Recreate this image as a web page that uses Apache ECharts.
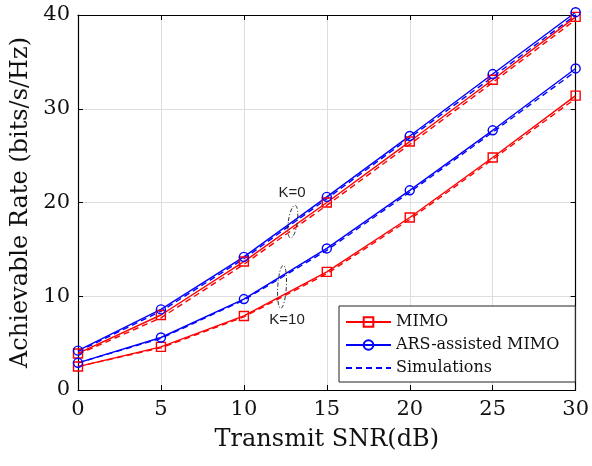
<!DOCTYPE html>
<html>
<head>
<meta charset="utf-8">
<script src="https://cdn.jsdelivr.net/npm/echarts@6/dist/echarts.min.js"></script>
<style>
  html, body { margin: 0; padding: 0; background: #fff; }
  #chart { width: 592px; height: 466px; }
</style>
</head>
<body>
<div id="chart"></div>
<script>
// transmit SNR (dB)
var snr = [0, 5, 10, 15, 20, 25, 30];

// analytical curves
var mimoK0 = [3.9, 8.0, 13.7, 20.0, 26.5, 33.1, 39.8];
var arsK0 = [4.2, 8.6, 14.2, 20.6, 27.1, 33.7, 40.3];
var mimoK10 = [2.5, 4.6, 7.9, 12.6, 18.4, 24.8, 31.4];
var arsK10 = [2.9, 5.6, 9.7, 15.1, 21.3, 27.7, 34.3];

// simulations (dashed)
var mimoK0Sim = [3.8, 7.7, 13.4, 19.7, 26.2, 32.8, 39.5];
var arsK0Sim = [4.1, 8.4, 14.0, 20.4, 26.9, 33.4, 40.0];
var mimoK10Sim = [2.5, 4.5, 7.8, 12.4, 18.2, 24.6, 31.1];
var arsK10Sim = [2.9, 5.5, 9.6, 14.9, 21.1, 27.5, 34.0];

var xTicks = [0, 5, 10, 15, 20, 25, 30];
var yTicks = [0, 10, 20, 30, 40];

var RED = '#ff0000';
var BLUE = '#0000ff';
var serif = 'DejaVu Serif';

function pts(arr) {
  return snr.map(function (x, i) { return [x, arr[i]]; });
}

function solid(name, arr, color, symbol) {
  return {
    name: name,
    type: 'line',
    data: pts(arr),
    symbol: symbol,
    symbolSize: 9,
    clip: false,
    z: 3,
    lineStyle: { color: color, width: 1.4 },
    itemStyle: { color: 'rgba(0,0,0,0)', borderColor: color, borderWidth: 1.4 },
    emphasis: { disabled: true }
  };
}

function dashed(arr, color) {
  return {
    name: 'Simulations',
    type: 'line',
    data: pts(arr),
    symbol: 'none',
    clip: false,
    z: 2,
    lineStyle: { color: color, width: 1.4, type: [6, 4] },
    // transparent so the legend shows only the dashed line
    itemStyle: { color: 'rgba(0,0,0,0)', borderWidth: 0 },
    emphasis: { disabled: true }
  };
}

var chart = echarts.init(document.getElementById('chart'));

var option = {
  animation: false,
  backgroundColor: '#fff',
  grid: { left: 78, right: 9, top: 15, bottom: 76 },
  legend: {
    data: [
      'MIMO',
      'ARS-assisted MIMO',
      { name: 'Simulations', itemStyle: { color: 'rgba(0,0,0,0)', borderWidth: 0 } }
    ],
    orient: 'vertical',
    left: 339,
    top: 306,
    itemWidth: 45,
    itemHeight: 12,
    itemGap: 7,
    padding: [8, 16, 6, 6],
    borderColor: '#222',
    borderWidth: 1,
    backgroundColor: '#fff',
    selectedMode: false,
    textStyle: { fontFamily: serif, fontSize: 16, color: '#111' }
  },
  xAxis: [{
    type: 'value',
    min: 0, max: 30, interval: 5,
    name: 'Transmit SNR(dB)',
    nameLocation: 'middle',
    nameGap: 38,
    nameTextStyle: { fontFamily: serif, fontSize: 24, color: '#111' },
    axisLine: { show: true, onZero: false, lineStyle: { color: '#000', width: 1.2 } },
    axisTick: { show: true, inside: true, length: 5, lineStyle: { color: '#000' } },
    axisLabel: {
      margin: 9, fontFamily: serif, fontSize: 21, color: '#111',
      formatter: function (v) { return xTicks.indexOf(v) >= 0 ? String(v) : ''; }
    },
    splitLine: { show: true, lineStyle: { color: '#dedede', width: 1 } }
  }, {
    type: 'value',
    position: 'top',
    min: 0, max: 30, interval: 5,
    axisLine: { show: true, onZero: false, lineStyle: { color: '#000', width: 1.2 } },
    axisTick: { show: true, inside: true, length: 5, lineStyle: { color: '#000' } },
    axisLabel: { show: false },
    splitLine: { show: false }
  }],
  yAxis: [{
    type: 'value',
    min: 0, max: 40, interval: 10,
    name: 'Achievable Rate (bits/s/Hz)',
    nameLocation: 'middle',
    nameGap: 42,
    nameRotate: 90,
    nameTextStyle: { fontFamily: serif, fontSize: 24, color: '#111' },
    axisLine: { show: true, onZero: false, lineStyle: { color: '#000', width: 1.2 } },
    axisTick: { show: true, inside: true, length: 5, lineStyle: { color: '#000' } },
    axisLabel: {
      margin: 8, fontFamily: serif, fontSize: 21, color: '#111',
      formatter: function (v) { return yTicks.indexOf(v) >= 0 ? String(v) : ''; }
    },
    splitLine: { show: true, lineStyle: { color: '#dedede', width: 1 } }
  }, {
    type: 'value',
    position: 'right',
    min: 0, max: 40, interval: 10,
    axisLine: { show: true, onZero: false, lineStyle: { color: '#000', width: 1.2 } },
    axisTick: { show: true, inside: true, length: 5, lineStyle: { color: '#000' } },
    axisLabel: { show: false },
    splitLine: { show: false }
  }],
  series: [
    dashed(arsK0Sim, BLUE),
    dashed(mimoK0Sim, RED),
    dashed(arsK10Sim, BLUE),
    dashed(mimoK10Sim, RED),
    solid('MIMO', mimoK0, RED, 'rect'),
    solid('ARS-assisted MIMO', arsK0, BLUE, 'circle'),
    solid('MIMO', mimoK10, RED, 'rect'),
    solid('ARS-assisted MIMO', arsK10, BLUE, 'circle')
  ]
};

chart.setOption(option);

// K=0 / K=10 annotations (ellipse + label), placed in data coordinates
function px(x, y) { return chart.convertToPixel({ gridIndex: 0 }, [x, y]); }

var e0 = px(12.95, 17.95);
var e10 = px(12.3, 11.0);
var t0 = px(12.9, 21.05);
var t10 = px(12.6, 7.45);
var ringStyle = { fill: 'none', stroke: '#222', lineWidth: 0.9, lineDash: [4, 2, 1, 2] };
var annText = { fontFamily: 'Liberation Sans', fontSize: 15, fill: '#222', align: 'center', verticalAlign: 'middle' };

chart.setOption({
  graphic: [
    { type: 'ellipse', x: e0[0], y: e0[1], rotation: -0.14, z: 10,
      shape: { cx: 0, cy: 0, rx: 4.5, ry: 16.5 }, style: ringStyle },
    { type: 'ellipse', x: e10[0], y: e10[1], rotation: -0.06, z: 10,
      shape: { cx: 0, cy: 0, rx: 4.3, ry: 21.5 }, style: ringStyle },
    { type: 'text', x: t0[0], y: t0[1], z: 10,
      style: Object.assign({ text: 'K=0' }, annText) },
    { type: 'text', x: t10[0], y: t10[1], z: 10,
      style: Object.assign({ text: 'K=10' }, annText) }
  ]
});
</script>
</body>
</html>
